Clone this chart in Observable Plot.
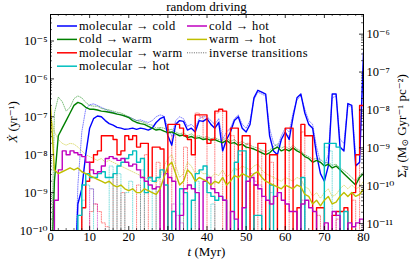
<!DOCTYPE html>
<html><head><meta charset="utf-8">
<script src="https://cdn.jsdelivr.net/npm/d3@7"></script>
<script src="https://cdn.jsdelivr.net/npm/@observablehq/plot@0.6"></script>
<style>body{margin:0;background:#fff}svg{display:block}</style>
</head><body><div id="chart"></div>
<script>
// time grid (Myr)
const times = d3.range(0, 81);
// log10 of transition rates (yr^-1); -12 = no transition (off chart)
const molCold = [-12,-12,-12,-12,-12,-12,-12,-9.3,-8.9,-8.0,
-7.3,-7.05,-6.98,-7.0,-7.1,-7.18,-7.22,-7.28,-7.3,-7.33,
-7.32,-7.3,-7.33,-7.3,-7.32,-7.35,-7.3,-7.15,-7.05,-7.0,
-7.5,-7.75,-7.2,-7.1,-7.12,-7.35,-7.3,-7.4,-7.1,-7.12,
-7.05,-7.2,-7.3,-7.15,-7.9,-7.6,-7.4,-7.1,-7.0,-7.3,
-7.4,-7.2,-6.5,-6.3,-6.35,-6.4,-7.5,-7.9,-8.0,-7.6,
-7.4,-7.6,-7.0,-6.5,-6.4,-6.9,-7.2,-7.3,-8.0,-8.5,
-8.7,-8.3,-6.4,-6.4,-7.8,-7.9,-6.65,-6.7,-8.3,-8.2,
-5.3];
const coldMol = [-12,-12,-12,-12,-12,-12,-12,-8.8,-7.4,-6.8,
-6.68,-6.66,-6.7,-6.75,-6.8,-6.85,-6.88,-6.92,-6.95,-6.98,
-7.0,-7.05,-7.1,-7.08,-7.12,-7.15,-7.1,-7.0,-6.95,-6.98,
-7.3,-7.5,-7.1,-7.0,-7.05,-7.25,-7.2,-7.3,-7.05,-7.0,
-7.0,-7.1,-7.2,-7.05,-7.6,-7.4,-7.3,-7.05,-6.95,-7.2,
-7.3,-7.1,-6.55,-6.35,-6.4,-6.45,-7.3,-7.7,-7.8,-7.5,
-7.3,-7.4,-6.9,-6.55,-6.45,-6.8,-7.1,-7.2,-7.8,-8.2,
-8.3,-8.0,-6.5,-6.45,-7.6,-7.7,-6.7,-6.75,-8.0,-8.0,
-5.5];
const coldWarm = [-12,-8.7,-7.5,-7.3,-7.1,-6.9,-6.7,-6.62,-6.66,-6.75,
-6.8,-6.8,-6.82,-6.85,-6.86,-6.88,-6.9,-6.93,-6.95,-6.98,
-7.02,-7.1,-7.15,-7.18,-7.2,-7.25,-7.3,-7.35,-7.33,-7.38,
-7.42,-7.4,-7.45,-7.5,-7.48,-7.55,-7.52,-7.57,-7.55,-7.6,
-7.58,-7.62,-7.6,-7.65,-7.68,-7.62,-7.7,-7.68,-7.75,-7.72,
-7.8,-7.82,-7.85,-7.9,-7.95,-8.0,-7.95,-7.85,-7.8,-7.9,
-7.85,-7.9,-7.82,-7.9,-7.95,-8.05,-8.1,-8.2,-8.15,-8.2,
-8.3,-8.25,-8.35,-8.3,-8.4,-8.5,-8.6,-8.7,-8.8,-8.6,
-8.5];
const warmCold = [-12,-6.9,-6.48,-6.6,-6.85,-6.75,-6.52,-6.45,-6.5,-6.62,
-6.7,-6.72,-6.72,-6.78,-6.8,-6.82,-6.85,-6.88,-6.9,-6.95,
-7.0,-7.05,-7.1,-7.12,-7.15,-7.2,-7.22,-7.3,-7.28,-7.3,
-7.35,-7.33,-7.4,-7.45,-7.42,-7.5,-7.45,-7.52,-7.5,-7.55,
-7.52,-7.58,-7.55,-7.6,-7.62,-7.55,-7.65,-7.6,-7.7,-7.65,
-7.72,-7.75,-7.8,-7.82,-7.88,-7.92,-7.88,-7.78,-7.72,-7.82,
-7.78,-7.85,-7.75,-7.85,-7.9,-8.0,-8.05,-8.12,-8.1,-8.12,
-8.22,-8.2,-8.28,-8.25,-8.35,-8.42,-8.5,-8.6,-8.7,-8.55,
-8.45];
const molWarm = [-12,-12,-12,-12,-12,-12,-12,-12,-9.4,-8.7,
-8.2,-8.0,-7.9,-7.5,-7.5,-7.5,-7.6,-8.0,-7.9,-7.5,
-7.6,-7.5,-7.8,-7.7,-7.7,-8.6,-7.8,-7.8,-7.85,-12,
-7.2,-7.2,-7.2,-7.3,-7.5,-7.6,-8.0,-6.95,-6.95,-6.95,
-7.7,-7.6,-6.85,-6.8,-6.85,-12,-7.3,-7.3,-12,-7.5,
-7.5,-12,-8.8,-7.7,-7.7,-12,-8.0,-8.0,-12,-12,
-7.3,-7.3,-12,-9.4,-7.2,-7.5,-7.5,-12,-9.4,-9.4,
-12,-12,-9.6,-9.5,-9.5,-9.4,-12,-9.0,-8.0,-6.7,
-6.7];
const warmMol = [-12,-12,-12,-12,-12,-12,-12,-12,-12,-12,
-9.5,-9.3,-9.5,-9.8,-9.9,-12,-8.5,-12,-9.0,-12,
-12,-12,-8.8,-12,-8.0,-12,-12,-8.2,-12,-12,
-12,-7.5,-12,-12,-7.8,-12,-12,-6.9,-7.0,-7.6,
-12,-12,-6.9,-6.85,-12,-12,-7.5,-12,-12,-12,
-7.7,-12,-12,-7.9,-12,-12,-8.2,-12,-12,-12,
-7.5,-12,-12,-12,-7.4,-12,-12,-12,-9.6,-12,
-12,-12,-12,-9.7,-12,-12,-12,-9.2,-12,-7.0,
-12];
const molHot = [-12,-12,-12,-12,-12,-12,-12,-9.6,-8.8,-8.5,
-8.6,-8.6,-8.5,-8.45,-8.6,-8.6,-8.5,-8.3,-8.2,-8.1,
-8.0,-7.9,-8.2,-8.1,-9.0,-8.6,-8.7,-8.6,-8.4,-8.8,
-12,-9.5,-12,-8.9,-9.0,-12,-9.2,-8.5,-8.4,-8.3,
-9.0,-9.1,-9.2,-9.1,-9.2,-12,-12,-8.2,-7.9,-7.9,
-12,-12,-9.6,-9.6,-12,-12,-8.8,-12,-12,-12,
-12,-12,-12,-12,-8.6,-12,-12,-12,-12,-12,
-7.7,-7.7,-7.7,-7.8,-12,-9.5,-12,-12,-12,-12,
-12];
const hotMol = [-12,-12,-12,-12,-12,-12,-12,-12,-9.2,-8.8,
-8.9,-12,-12,-12,-12,-8.3,-12,-8.5,-12,-9.0,
-8.7,-12,-12,-8.4,-12,-12,-8.9,-12,-12,-12,
-12,-12,-12,-9.3,-12,-12,-12,-8.7,-12,-12,
-12,-9.3,-12,-12,-12,-12,-12,-8.4,-8.0,-12,
-12,-12,-12,-12,-12,-12,-9.0,-12,-12,-12,
-12,-12,-12,-12,-12,-12,-12,-12,-12,-12,
-7.8,-7.9,-12,-12,-12,-12,-12,-12,-12,-12,
-12];
const coldHot = [-12,-9.2,-8.4,-7.9,-8.0,-7.9,-7.95,-8.0,-8.05,-8.2,
-8.4,-8.5,-8.45,-8.3,-8.1,-8.05,-8.1,-8.15,-8.1,-8.2,
-8.3,-8.25,-8.4,-8.6,-8.7,-8.8,-8.9,-8.85,-12,-8.5,
-8.6,-8.7,-12,-9.6,-8.9,-8.8,-8.9,-9.0,-12,-8.7,
-8.6,-8.9,-9.0,-9.1,-9.2,-12,-9.5,-9.7,-12,-9.4,
-8.7,-8.6,-8.8,-8.9,-9.1,-9.2,-9.3,-9.1,-9.0,-9.2,
-9.3,-9.5,-9.5,-12,-9.3,-9.2,-9.4,-9.5,-12,-12,
-9.8,-12,-9.5,-9.6,-12,-12,-9.8,-9.9,-9.8,-9.7,
-12];
const hotCold = [-12,-12,-12,-12,-12,-12,-12,-12,-12,-12,
-8.9,-9.3,-12,-12,-12,-12,-12,-12,-12,-12,
-12,-12,-12,-12,-12,-12,-12,-12,-12,-12,
-12,-9.3,-9.6,-9.8,-12,-12,-12,-12,-12,-12,
-12,-12,-12,-12,-12,-12,-12,-12,-12,-12,
-8.6,-8.5,-8.7,-8.8,-12,-12,-12,-12,-12,-12,
-12,-12,-12,-12,-9.2,-12,-12,-12,-12,-12,
-12,-12,-12,-9.5,-12,-12,-12,-12,-12,-12,
-12];
const warmHot = [-6.7,-8.4,-8.5,-8.45,-8.4,-8.35,-8.4,-8.35,-8.45,-8.5,
-8.55,-8.6,-8.65,-8.7,-8.75,-8.7,-8.8,-8.85,-8.8,-8.9,
-8.95,-8.9,-9.0,-9.0,-8.9,-8.95,-9.0,-9.05,-8.9,-8.6,
-8.3,-8.2,-8.5,-8.8,-8.7,-8.4,-8.5,-8.7,-8.6,-8.65,
-8.7,-8.8,-8.7,-8.75,-8.6,-8.8,-8.7,-8.55,-8.6,-8.5,
-8.55,-8.6,-8.5,-8.45,-8.6,-8.7,-8.75,-8.8,-8.85,-8.9,
-8.8,-8.85,-8.9,-8.8,-8.85,-9.05,-9.1,-9.3,-9.2,-9.35,
-9.2,-9.1,-9.3,-9.25,-9.1,-9.0,-9.1,-9.0,-9.1,-9.05,
-8.9];
const hotWarm = [-7.0,-7.4,-7.6,-7.7,-7.75,-7.7,-7.72,-7.8,-7.9,-8.0,
-8.05,-8.1,-8.15,-8.1,-8.2,-8.15,-8.2,-8.25,-8.3,-8.35,
-8.4,-8.45,-8.5,-8.55,-8.6,-8.65,-8.7,-8.75,-8.6,-8.3,
-8.1,-8.0,-8.3,-8.6,-8.5,-8.2,-8.3,-8.5,-8.4,-8.5,
-8.5,-8.6,-8.5,-8.55,-8.4,-8.6,-8.5,-8.35,-8.4,-8.3,
-8.35,-8.4,-8.3,-8.25,-8.4,-8.5,-8.55,-8.6,-8.65,-8.7,
-8.6,-8.65,-8.7,-8.6,-8.65,-8.85,-8.9,-9.1,-9.0,-9.15,
-9.0,-8.9,-9.1,-9.05,-8.9,-8.8,-8.9,-8.8,-8.9,-8.85,
-8.7];

const seriesNames = ["molecular \u2192 cold","cold \u2192 warm","molecular \u2192 warm","molecular \u2192 hot","cold \u2192 hot","warm \u2192 hot"];
const seriesColors = ["#0000ff","#008000","#ff0000","#00bfbf","#bf00bf","#bfbf00"];
const solidSeries = [molCold, coldWarm, molWarm, molHot, coldHot, warmHot];
const inverseSeries = [coldMol, warmCold, warmMol, hotMol, hotCold, hotWarm];
const seriesCurves = ["linear","linear","step-after","step-after","step-after","linear"];

const xTicks = [0,10,20,30,40,50,60,70,80];
const yTicks = [1e-10,1e-9,1e-8,1e-7,1e-6,1e-5];
const yTickLabels = ["10\u207B\u00B9\u2070","10\u207B\u2079","10\u207B\u2078","10\u207B\u2077","10\u207B\u2076","10\u207B\u2075"];
const rightTicks = [1e-11,1e-10,1e-9,1e-8,1e-7,1e-6];
const rightTickLabels = ["10\u207B\u00B9\u00B9","10\u207B\u00B9\u2070","10\u207B\u2079","10\u207B\u2078","10\u207B\u2077","10\u207B\u2076"];
const rightFactor = 0.066; // surface density rate per unit rate
const yDomain = [1e-10, 5e-5];

const FONT = "'Liberation Serif', 'DejaVu Serif', serif";
const W = 415, H = 260, mL = 50, mR = 52, mT = 14, mB = 30;
const plotW = W - mL - mR, plotH = H - mT - mB;

const rows = [];
solidSeries.forEach((arr, s) => arr.forEach((lg, i) => rows.push({t: times[i], v: Math.pow(10, lg), s, kind: "solid"})));
inverseSeries.forEach((arr, s) => arr.forEach((lg, i) => rows.push({t: times[i], v: Math.pow(10, lg), s, kind: "inv"})));

const minorOf = (majors, lo, hi) => {
  const out = [];
  [majors[0] / 10, ...majors].forEach(m => { for (let k = 2; k <= 9; k++) { const v = m * k; if (v >= lo && v <= hi) out.push(v); } });
  return out;
};
const yMinor = minorOf(yTicks, yDomain[0], yDomain[1]);
const rMinor = minorOf(rightTicks, yDomain[0]*rightFactor, yDomain[1]*rightFactor).map(v => v / rightFactor);
const rMajor = rightTicks.map(v => v / rightFactor);
const xMinor = d3.range(0, 81, 2).filter(v => v % 10 !== 0);

const marks = [];
for (let s = 0; s < 6; s++) {
  marks.push(Plot.line(rows.filter(r => r.s === s && r.kind === "inv"), {x: "t", y: "v", stroke: seriesColors[s], strokeWidth: 0.9, strokeOpacity: 0.55, strokeDasharray: "1,1.3", curve: seriesCurves[s], clip: true}));
}
for (let s = 0; s < 6; s++) {
  marks.push(Plot.line(rows.filter(r => r.s === s && r.kind === "solid"), {x: "t", y: "v", stroke: seriesColors[s], strokeWidth: 1.4, curve: seriesCurves[s], clip: true}));
}
marks.push(
  Plot.frame({stroke: "black", strokeWidth: 1}),
  Plot.tickY(yTicks, {y: d => d, insetRight: plotW - 4, stroke: "black", strokeWidth: 0.8}),
  Plot.tickY(yMinor, {y: d => d, insetRight: plotW - 2, stroke: "black", strokeWidth: 0.6}),
  Plot.tickY(rMajor, {y: d => d, insetLeft: plotW - 4, stroke: "black", strokeWidth: 0.8}),
  Plot.tickY(rMinor, {y: d => d, insetLeft: plotW - 2, stroke: "black", strokeWidth: 0.6}),
  Plot.tickX(xTicks, {x: d => d, insetTop: plotH - 4, stroke: "black", strokeWidth: 0.8}),
  Plot.tickX(xTicks, {x: d => d, insetBottom: plotH - 4, stroke: "black", strokeWidth: 0.8}),
  Plot.tickX(xMinor, {x: d => d, insetTop: plotH - 2, stroke: "black", strokeWidth: 0.6}),
  Plot.tickX(xMinor, {x: d => d, insetBottom: plotH - 2, stroke: "black", strokeWidth: 0.6}),
  Plot.text(yTicks, {y: d => d, text: (d, i) => yTickLabels[i], frameAnchor: "left", dx: -3, textAnchor: "end", fontSize: 12.5}),
  Plot.text(rMajor, {y: d => d, text: (d, i) => rightTickLabels[i], frameAnchor: "right", dx: 3, textAnchor: "start", fontSize: 12.5}),
  Plot.text(xTicks, {x: d => d, text: d => String(d), frameAnchor: "bottom", dy: 10, fontSize: 12.5})
);

const chart = Plot.plot({
  width: W, height: H,
  marginLeft: mL, marginRight: mR, marginTop: mT, marginBottom: mB,
  style: {fontFamily: FONT, fontSize: "12px", color: "black", background: "white"},
  x: {domain: [0, 80], axis: null},
  y: {type: "log", domain: yDomain, axis: null},
  marks
});
document.getElementById("chart").appendChild(chart);

const svg = d3.select(chart);
const g = svg.append("g").style("font-family", FONT).attr("fill", "black");
// title
g.append("text").attr("x", mL + plotW / 2).attr("y", 11).attr("text-anchor", "middle").attr("font-size", 13).text("random driving");
// x label
const xl = g.append("text").attr("x", mL + plotW / 2).attr("y", 256).attr("text-anchor", "middle").attr("font-size", 13);
xl.append("tspan").attr("font-style", "italic").text("t");
xl.append("tspan").text(" (Myr)");
// left label
const yl = g.append("text").attr("transform", `translate(17,${mT + plotH / 2}) rotate(-90)`).attr("text-anchor", "middle").attr("font-size", 13);
yl.append("tspan").attr("font-style", "italic").text("X\u0307");
yl.append("tspan").text(" (yr\u207B\u00B9)");
// right label
const rl = g.append("text").attr("transform", `translate(406,${mT + plotH / 2 + 4}) rotate(-90)`).attr("text-anchor", "middle").attr("font-size", 13);
rl.append("tspan").text("\u03A3\u0307");
rl.append("tspan").attr("font-style", "italic").attr("font-size", 9).attr("dy", 2).text("d");
rl.append("tspan").attr("dy", -2).text(" (M");
rl.append("tspan").attr("font-size", 9).attr("dy", 2).text("\u2299");
rl.append("tspan").attr("dy", -2).text(" Gyr\u207B\u00B9 pc\u207B\u00B2)");
// legend
const legendItems = seriesNames.map((n, i) => ({label: n, color: seriesColors[i], dash: null}));
legendItems.push({label: "inverse transitions", color: "#666", dash: "1,1.3"});
const legendPos = [[0,0],[0,1],[0,2],[0,3],[1,0],[1,1],[1,2]];
const colX = [57, 187], rowY0 = 26, rowDY = 13.4, lineLen = 20;
legendItems.forEach((it, i) => {
  const [c, r] = legendPos[i];
  const y = rowY0 + r * rowDY;
  g.append("line").attr("x1", colX[c]).attr("x2", colX[c] + lineLen).attr("y1", y).attr("y2", y)
    .attr("stroke", it.color).attr("stroke-width", it.dash ? 1 : 1.5).attr("stroke-dasharray", it.dash);
  g.append("text").attr("x", colX[c] + lineLen + 2).attr("y", y + 4).attr("text-anchor", "start")
    .attr("font-size", 12.5).attr("letter-spacing", 0.4).text(it.label);
});
</script>
</body></html>
